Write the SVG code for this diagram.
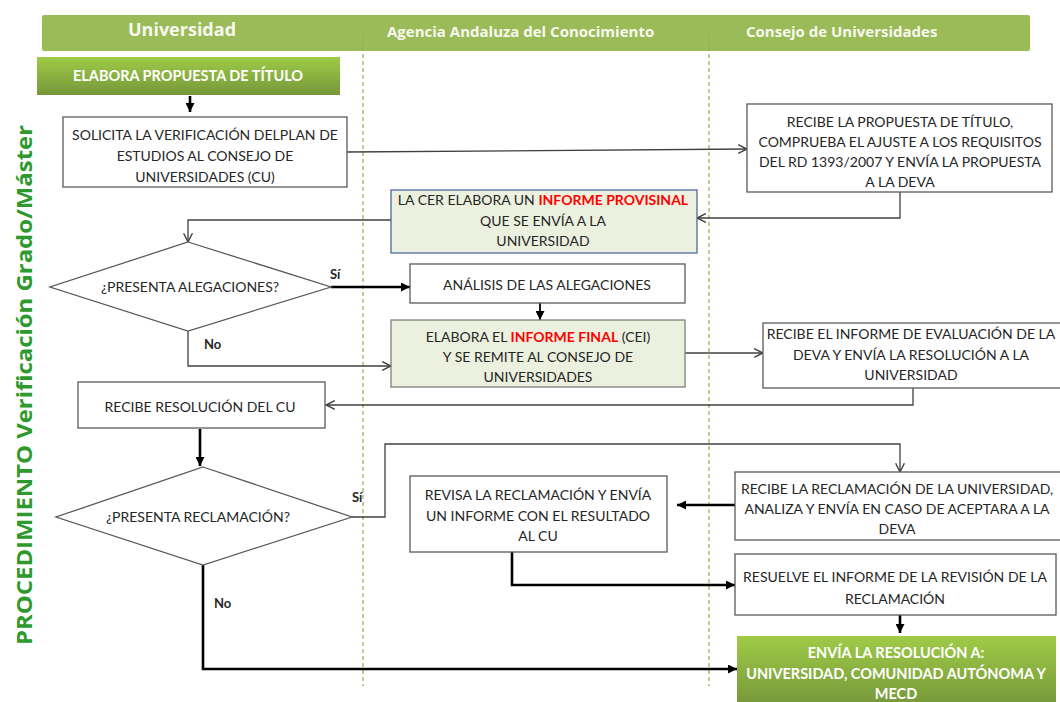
<svg xmlns="http://www.w3.org/2000/svg" width="1060" height="702" viewBox="0 0 1060 702">
<defs>
<linearGradient id="gGreen" x1="0" y1="0" x2="0" y2="1">
<stop offset="0" stop-color="#9fcb47"/>
<stop offset="1" stop-color="#76973a"/>
</linearGradient>
<marker id="mOpen" viewBox="0 0 10 10" refX="9" refY="5" markerWidth="11" markerHeight="11" markerUnits="userSpaceOnUse" orient="auto">
<path d="M1,1 L9,5 L1,9" fill="none" stroke="#404040" stroke-width="1.3"/>
</marker>
<marker id="mFill" viewBox="0 0 10 10" refX="10" refY="5" markerWidth="9" markerHeight="9" markerUnits="userSpaceOnUse" orient="auto">
<path d="M0,0 L10,5 L0,10 z" fill="#000"/>
</marker>
</defs>
<style>
.box{fill:#fff;stroke:#595959;stroke-width:1.3}
.lg{fill:#ebf1de;stroke:#7f7f7f;stroke-width:1.3}
.t{font-family:Lato,"Open Sans",sans-serif;font-size:14px;fill:#262626;text-anchor:middle}
.red{fill:#ff0000;font-weight:bold}
.hd{font-family:"Open Sans",Lato,sans-serif;font-weight:bold;fill:#f6f9ee}
.gw{font-family:Lato,"Open Sans",sans-serif;font-weight:bold;font-size:14.5px;fill:#fff;text-anchor:middle}
.lbl{font-family:Lato,"Open Sans",sans-serif;font-weight:bold;font-size:13px;fill:#262626}
.thin{fill:none;stroke:#404040;stroke-width:1.3;marker-end:url(#mOpen)}
.thick{fill:none;stroke:#000;stroke-width:2.6;marker-end:url(#mFill)}
.lane{stroke:#8fae55;stroke-width:1.2;stroke-dasharray:4 3}
</style>
<rect width="1060" height="702" fill="#fff"/>
<g id="header">
<rect x="42" y="15" width="988" height="36" rx="2" fill="#9bbb59"/>
<text class="hd" x="182" y="36" font-size="18" text-anchor="middle">Universidad</text>
<text class="hd" x="387" y="37" font-size="15">Agencia Andaluza del Conocimiento</text>
<text class="hd" x="746" y="37" font-size="15">Consejo de Universidades</text>
</g>
<g id="lanes">
<line class="lane" x1="363" y1="33" x2="363" y2="686"/>
<line class="lane" x1="709" y1="33" x2="709" y2="686"/>
</g>
<g id="title">
<text transform="translate(32,385) rotate(-90)" text-anchor="middle" font-family="'Open Sans',Lato,sans-serif" font-weight="bold" font-size="21" fill="#2e9a2e" textLength="520" lengthAdjust="spacingAndGlyphs">PROCEDIMIENTO  Verificación Grado/Máster</text>
</g>
<g id="connectors">
<path class="thick" d="M190,96 V112"/>
<path class="thin" d="M347,152 L747,149"/>
<path class="thin" d="M900,192 V218 H697"/>
<path class="thin" d="M391,220 H188 V242"/>
<path class="thick" d="M331,287 H410"/>
<path class="thick" d="M540,303 V320" style="stroke-width:1.8"/>
<path class="thin" d="M188,331 V366 H391"/>
<path class="thin" d="M685,353 H763"/>
<path class="thin" d="M913,388 V405 H326"/>
<path class="thick" d="M200,429 V466"/>
<path class="thin" d="M352,517 H385 V444 H900 V472"/>
<path class="thick" d="M735,505 H677"/>
<path class="thick" d="M512,552 V585 H735"/>
<path class="thick" d="M900,615 V633"/>
<path class="thick" d="M203,565 V669 H737"/>
</g>
<g id="labels">
<text class="lbl" x="330" y="279">Sí</text>
<text class="lbl" x="204" y="349">No</text>
<text class="lbl" x="352" y="502">Sí</text>
<text class="lbl" x="214" y="608">No</text>
</g>
<g id="n-elabora">
<rect x="37" y="57" width="303" height="38" fill="url(#gGreen)"/>
<text class="gw" x="188" y="81">ELABORA PROPUESTA DE TÍTULO</text>
</g>
<g id="n-solicita">
<rect class="box" x="63" y="117" width="284" height="70"/>
<text class="t" x="205" y="140">SOLICITA LA VERIFICACIÓN DELPLAN DE</text>
<text class="t" x="205" y="161">ESTUDIOS AL CONSEJO DE</text>
<text class="t" x="205" y="182">UNIVERSIDADES (CU)</text>
</g>
<g id="n-recibeprop">
<rect class="box" x="747" y="104" width="305" height="88"/>
<text class="t" x="900" y="127">RECIBE LA PROPUESTA DE TÍTULO,</text>
<text class="t" x="900" y="147">COMPRUEBA EL AJUSTE A LOS REQUISITOS</text>
<text class="t" x="900" y="167">DEL RD 1393/2007  Y ENVÍA LA PROPUESTA</text>
<text class="t" x="900" y="187">A LA DEVA</text>
</g>
<g id="n-lacer">
<rect x="391" y="190" width="306" height="63" fill="#ebf1de" stroke="#4a6aa0" stroke-width="1.3"/>
<text class="t" x="543" y="205">LA CER ELABORA UN <tspan class="red">INFORME PROVISINAL</tspan></text>
<text class="t" x="543" y="226">QUE SE ENVÍA A LA</text>
<text class="t" x="543" y="246">UNIVERSIDAD</text>
</g>
<g id="n-alegaciones">
<polygon class="box" points="188,242 331,287 188,331 50,287"/>
<text class="t" x="190" y="292">¿PRESENTA ALEGACIONES?</text>
</g>
<g id="n-analisis">
<rect class="box" x="410" y="264" width="275" height="39"/>
<text class="t" x="547" y="290">ANÁLISIS DE LAS ALEGACIONES</text>
</g>
<g id="n-final">
<rect class="lg" x="391" y="320" width="294" height="67"/>
<text class="t" x="538" y="342">ELABORA EL <tspan class="red">INFORME FINAL</tspan> (CEI)</text>
<text class="t" x="538" y="362">Y SE REMITE AL CONSEJO DE</text>
<text class="t" x="538" y="382">UNIVERSIDADES</text>
</g>
<g id="n-recibeinf">
<rect class="box" x="763" y="323" width="300" height="65"/>
<text class="t" x="911" y="339">RECIBE EL INFORME DE EVALUACIÓN DE LA</text>
<text class="t" x="911" y="360">DEVA Y ENVÍA LA RESOLUCIÓN A LA</text>
<text class="t" x="911" y="380">UNIVERSIDAD</text>
</g>
<g id="n-recibeRes">
<rect class="box" x="78" y="382" width="247" height="46"/>
<text class="t" x="200" y="412">RECIBE RESOLUCIÓN DEL CU</text>
</g>
<g id="n-reclamacion">
<polygon class="box" points="203,467 352,517 203,565 56,517"/>
<text class="t" x="198" y="522">¿PRESENTA RECLAMACIÓN?</text>
</g>
<g id="n-recibeRecl">
<rect class="box" x="735" y="472" width="327" height="68"/>
<text class="t" x="897" y="494">RECIBE LA RECLAMACIÓN DE LA UNIVERSIDAD,</text>
<text class="t" x="897" y="514">ANALIZA Y ENVÍA EN CASO DE ACEPTARA A LA</text>
<text class="t" x="897" y="534">DEVA</text>
</g>
<g id="n-revisa">
<rect class="box" x="410" y="476" width="257" height="76"/>
<text class="t" x="538" y="500">REVISA LA RECLAMACIÓN Y ENVÍA</text>
<text class="t" x="538" y="521">UN INFORME CON EL RESULTADO</text>
<text class="t" x="538" y="541">AL CU</text>
</g>
<g id="n-resuelve">
<rect class="box" x="735" y="554" width="321" height="61"/>
<text class="t" x="895" y="582">RESUELVE EL INFORME DE LA REVISIÓN DE LA</text>
<text class="t" x="895" y="604">RECLAMACIÓN</text>
</g>
<g id="n-envia">
<rect x="737" y="636" width="319" height="70" fill="url(#gGreen)"/>
<text class="gw" x="896" y="658">ENVÍA LA RESOLUCIÓN A:</text>
<text class="gw" x="896" y="679">UNIVERSIDAD, COMUNIDAD AUTÓNOMA Y</text>
<text class="gw" x="896" y="699">MECD</text>
</g>
</svg>
